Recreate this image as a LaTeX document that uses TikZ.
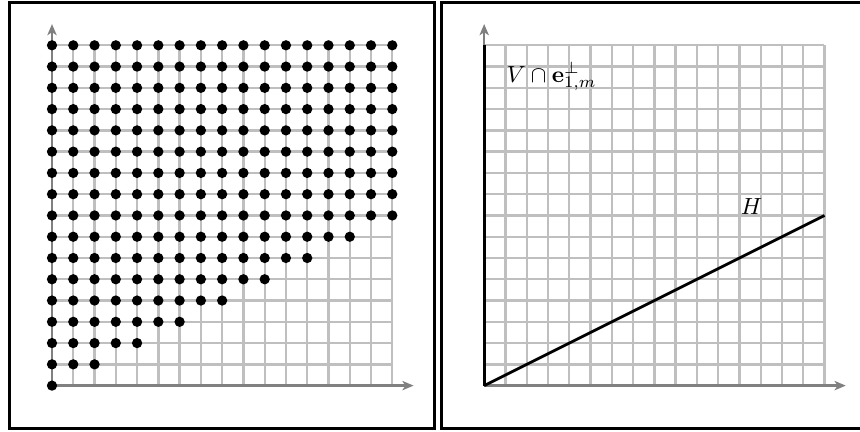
\documentclass[tikz,border=0pt]{standalone}
\usetikzlibrary{arrows.meta}
\begin{document}
\begin{tikzpicture}[x=0.32cm,y=0.32cm,
 gridline/.style={draw=black!25,line width=1pt},
 axis/.style={draw=black!50,line width=1.1pt,-{Stealth[length=4.8pt,width=4pt,inset=1.3pt]}},
 frame/.style={draw=black,line width=1.3pt},
 bold/.style={draw=black,line width=1.2pt},
 lbl/.style={inner sep=0pt,anchor=base west}]
\useasboundingbox (-2.445,-2.177) rectangle (37.99,18.13);
% left panel
\draw[frame] (-2,-2) rectangle (18,18);
\draw[gridline,step={(1,1)}] (0,0) grid (16,16);
\coordinate (O1) at (0,0);
\coordinate (X1) at (17,0);
\coordinate (Y1) at (0,17);
\draw[axis] (O1) -- (X1);
\draw[axis] (O1) -- (Y1);
\foreach \j in {0,...,16}{
  \pgfmathtruncatemacro\nmax{min(2*\j,16)}
  \foreach \i in {0,...,\nmax} \fill[black] (\i,\j) circle[radius=2.2pt];
}
% right panel
\begin{scope}[shift={(20.32,0)}]
\draw[frame] (-2,-2) rectangle (18,18);
\draw[gridline,step={(1,1)}] (0,0) grid (16,16);
\coordinate (O2) at (0,0);
\coordinate (X2) at (17,0);
\coordinate (Y2) at (0,17);
\coordinate (T2) at (0,16);
\coordinate (H2) at (16,8);
\draw[axis] (O2) -- (X2);
\draw[axis] (O2) -- (Y2);
\draw[bold] (O2) -- (T2);
\draw[bold] (O2) -- (H2);
\node[lbl] (vlab) at (1.05,14.27) {$V\cap\mathbf{e}_{1,m}^{\perp}$};
\node[lbl] (hlab) at (12.05,8.03) {$H$};
\end{scope}
\end{tikzpicture}
\end{document}
